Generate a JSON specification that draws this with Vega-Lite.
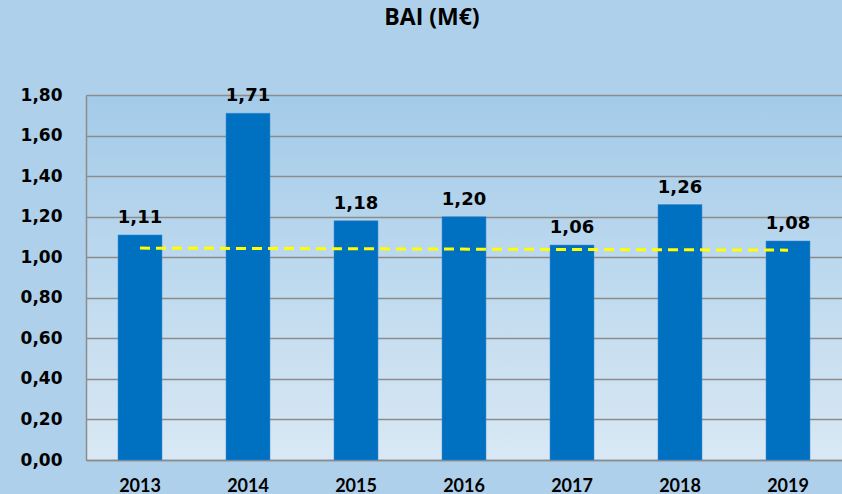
{
  "$schema": "https://vega.github.io/schema/vega-lite/v6.json",
  "width": 756,
  "height": 365,
  "autosize": "none",
  "padding": {"left": 86, "top": 95, "right": 0, "bottom": 34},
  "background": "#afd0ea",
  "title": {
    "text": "BAI (M€)",
    "font": "Open Sans",
    "fontSize": 23,
    "fontWeight": "bold",
    "color": "#000000",
    "offset": 56,
    "dx": -32,
    "anchor": "middle"
  },
  "config": {
    "locale": {"number": {"decimal": ",", "thousands": ".", "grouping": [3], "currency": ["", " €"]}},
    "view": {
      "stroke": null,
      "fill": {"gradient": "linear", "x1": 0, "y1": 0, "x2": 0, "y2": 1,
        "stops": [{"offset": 0, "color": "#a3cbe9"}, {"offset": 1, "color": "#d9e8f4"}]}
    }
  },
  "datasets": {
    "bars": [
      {"year": "2013", "value": 1.11},
      {"year": "2014", "value": 1.71},
      {"year": "2015", "value": 1.18},
      {"year": "2016", "value": 1.20},
      {"year": "2017", "value": 1.06},
      {"year": "2018", "value": 1.26},
      {"year": "2019", "value": 1.08}
    ],
    "trend": [
      {"year": "2013", "trend": 1.045},
      {"year": "2019", "trend": 1.035}
    ]
  },
  "encoding": {
    "x": {
      "field": "year",
      "type": "ordinal",
      "scale": {"domain": ["2013", "2014", "2015", "2016", "2017", "2018", "2019"], "paddingInner": 0.593, "paddingOuter": 0.2965},
      "axis": {
        "title": null,
        "labelAngle": 0,
        "ticks": false,
        "domainColor": "#8c8c8c",
        "domainWidth": 1.5,
        "labelPadding": 17,
        "labelFont": "Lato",
        "labelFontSize": 18,
        "labelFontWeight": "bold",
        "labelColor": "#000000"
      }
    }
  },
  "layer": [
    {
      "data": {"name": "bars"},
      "mark": {"type": "bar", "color": "#0070c0", "stroke": "#3a8ad0", "strokeWidth": 0.5},
      "encoding": {
        "y": {
          "field": "value",
          "type": "quantitative",
          "scale": {"domain": [0, 1.8], "nice": false, "zero": true},
          "axis": {
            "title": null,
            "values": [0, 0.2, 0.4, 0.6, 0.8, 1.0, 1.2, 1.4, 1.6, 1.8],
            "format": ".2f",
            "ticks": false,
            "domainColor": "#8c8c8c",
            "domainWidth": 1.5,
            "gridColor": "#8c8c8c",
            "gridWidth": 1.5,
            "labelPadding": 24,
            "labelFont": "DejaVu Sans",
            "labelFontSize": 17,
            "labelFontWeight": "bold",
            "labelColor": "#000000"
          }
        }
      }
    },
    {
      "data": {"name": "bars"},
      "mark": {"type": "text", "baseline": "bottom", "dy": -8, "font": "DejaVu Sans", "fontSize": 18, "fontWeight": "bold", "color": "#000000"},
      "encoding": {
        "y": {"field": "value", "type": "quantitative"},
        "text": {"field": "value", "type": "quantitative", "format": ".2f"}
      }
    },
    {
      "data": {"name": "trend"},
      "mark": {"type": "line", "color": "#ffff00", "strokeWidth": 3, "strokeDash": [10, 6]},
      "encoding": {
        "y": {"field": "trend", "type": "quantitative"}
      }
    }
  ]
}
